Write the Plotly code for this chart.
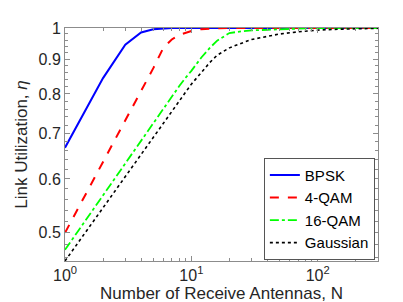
import numpy as np
import plotly.graph_objects as go

# Number of receive antennas
N = [1, 2, 3, 4, 5, 6, 7, 8, 9, 10, 12, 14, 16, 20, 25, 30, 40, 50, 70, 100, 150, 200, 300]

bpsk = [0.667, 0.844, 0.945, 0.985, 0.996, 0.999, 1.0, 1.0, 1.0, 1.0, 1.0, 1.0, 1.0,
        1.0, 1.0, 1.0, 1.0, 1.0, 1.0, 1.0, 1.0, 1.0, 1.0]
qam4 = [0.500, 0.635, 0.731, 0.807, 0.873, 0.935, 0.962, 0.977, 0.985, 0.990, 0.996,
        0.998, 0.999, 1.0, 1.0, 1.0, 1.0, 1.0, 1.0, 1.0, 1.0, 1.0, 1.0]
qam16 = [0.472, 0.568, 0.633, 0.683, 0.725, 0.761, 0.793, 0.821, 0.845, 0.865, 0.905,
         0.935, 0.958, 0.983, 0.989, 0.992, 0.994, 0.996, 0.999, 1.0, 1.0, 1.0, 1.0]
gaussian = [0.4545, 0.544, 0.605, 0.652, 0.691, 0.724, 0.754, 0.780, 0.804, 0.827, 0.860,
            0.890, 0.912, 0.935, 0.950, 0.962, 0.972, 0.980, 0.987, 0.993, 0.996, 0.998, 0.999]

x_tickvals = [1, 10, 100]
x_ticktext = ["10<sup>0</sup>", "10<sup>1</sup>", "10<sup>2</sup>"]
y_tickvals = [0.5, 0.6, 0.7, 0.8, 0.9, 1.0]
y_ticktext = ["0.5", "0.6", "0.7", "0.8", "0.9", "1"]

x_minor = [2, 3, 4, 5, 6, 7, 8, 9, 20, 30, 40, 50, 60, 70, 80, 90, 200, 300]
y_minor = [round(v, 2) for v in np.arange(0.46, 0.99, 0.02) if abs(v * 10 - round(v * 10)) > 1e-6]

FONT = "Liberation Sans, Arial, Helvetica, sans-serif"
TXT = "#262626"
AX = "#8c8c8c"

fig = go.Figure()
fig.add_trace(go.Scatter(x=N, y=bpsk, mode="lines", name="BPSK",
                         line=dict(color="#0000ff", width=2, dash="solid")))
fig.add_trace(go.Scatter(x=N, y=qam4, mode="lines", name="4-QAM",
                         line=dict(color="#ff0000", width=2, dash="dash")))
fig.add_trace(go.Scatter(x=N, y=qam16, mode="lines", name="16-QAM",
                         line=dict(color="#00ff00", width=1.8, dash="dashdot")))
fig.add_trace(go.Scatter(x=N, y=gaussian, mode="lines", name="Gaussian",
                         line=dict(color="#000000", width=1.6, dash="dot")))

fig.update_layout(
    width=403, height=302,
    margin=dict(l=57, r=33, t=12, b=45),
    paper_bgcolor="white", plot_bgcolor="white",
    font=dict(family=FONT, size=16, color=TXT),
    showlegend=True,
    legend=dict(x=0.99, y=0.005, xanchor="right", yanchor="bottom",
                bgcolor="white", bordercolor="#555555", borderwidth=1,
                font=dict(size=15, color="#000000"), tracegroupgap=0,
                itemwidth=30),
)

fig.update_xaxes(
    type="log", range=[0, np.log10(300)],
    tickmode="array", tickvals=x_tickvals, ticktext=x_ticktext,
    ticks="inside", ticklen=5, tickcolor=AX, tickwidth=1,
    showline=True, linecolor=AX, linewidth=1, mirror="ticks",
    showgrid=False, zeroline=False,
    tickfont=dict(size=16, color=TXT),
    minor=dict(tickmode="array", tickvals=x_minor, ticks="inside", ticklen=3,
               tickcolor=AX, showgrid=False),
    title=dict(text="Number of Receive Antennas, N", font=dict(size=17, color=TXT), standoff=2),
)
fig.update_yaxes(
    type="log", range=[np.log10(0.4545), 0],
    tickmode="array", tickvals=y_tickvals, ticktext=y_ticktext,
    ticks="inside", ticklen=5, tickcolor=AX, tickwidth=1,
    showline=True, linecolor=AX, linewidth=1, mirror="ticks",
    showgrid=False, zeroline=False,
    tickfont=dict(size=16, color=TXT),
    minor=dict(tickmode="array", tickvals=y_minor, ticks="inside", ticklen=3,
               tickcolor=AX, showgrid=False),
    title=dict(text="Link Utilization, <i>η</i>", font=dict(size=17, color=TXT), standoff=6),
)

fig.write_html("out.html")
